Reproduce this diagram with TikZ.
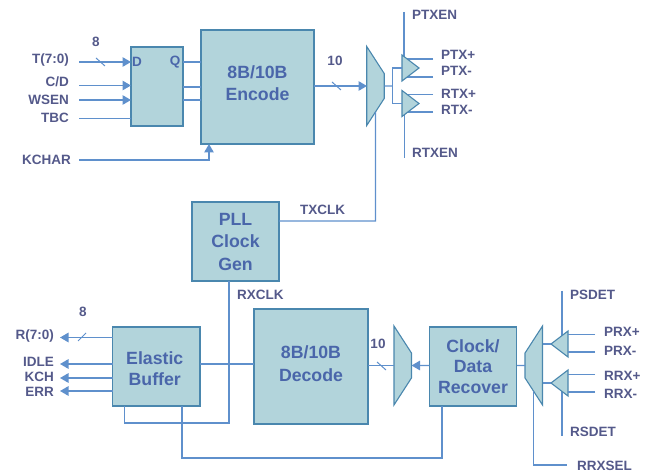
\documentclass[tikz,border=0pt]{standalone}
\usepackage{fontspec}
\setmainfont{Liberation Sans}
\usetikzlibrary{arrows.meta,shapes.geometric}
\definecolor{boxfill}{HTML}{B2D4DB}
\definecolor{boxline}{HTML}{4A87AE}
\definecolor{wire}{HTML}{5F90CC}
\definecolor{sigtext}{HTML}{54598A}
\definecolor{boxtext}{HTML}{4A66AA}
\tikzset{
  block/.style={draw=boxline,fill=boxfill,line width=1.3pt,inner sep=0pt,outer sep=0pt,align=center,text=boxtext,font=\bfseries\fontsize{17.7}{21.5}\selectfont},
  blocklabel/.style={block,draw=none,fill=none},
  muxshape/.style={trapezium,trapezium stretches=true,trapezium left angle=41,trapezium right angle=41,draw=boxline,fill=boxfill,line width=1.1pt,inner sep=0pt,outer sep=0pt,minimum width=79pt,minimum height=17.5pt},
  bufshape/.style={isosceles triangle,isosceles triangle stretches=true,draw=boxline,fill=boxfill,line width=1.1pt,inner sep=0pt,outer sep=0pt,minimum width=26pt,minimum height=17pt},
  wireline/.style={draw=wire,line width=1.3pt},
  arrowline/.style={wireline,-{Triangle[length=8.5pt,width=9.5pt]}},
  tickline/.style={draw=wire,line width=1pt},
  sig/.style={text=sigtext,font=\bfseries\fontsize{13.5}{15}\selectfont,inner sep=0pt},
  sigleft/.style={sig,anchor=west},
  sigright/.style={sig,anchor=east},
  pinlabel/.style={text=boxtext,font=\bfseries\fontsize{13.5}{15}\selectfont,inner sep=0pt}
}
\begin{document}
\begin{tikzpicture}[x=1pt,y=-1pt]
\useasboundingbox (0,0) rectangle (649,473);
% transmit side
\node[block,minimum width=52pt,minimum height=79pt] (reg) at (157,86.5) {};
\node[block,minimum width=113pt,minimum height=114pt,label={[blocklabel,yshift=4pt]center:8B/10B\\Encode}] (enc) at (257.5,87) {};
\node[muxshape,shape border rotate=270] (txmux) at (375.5,86) {\phantom{x}};
\coordinate (txin) at (367,86);
\node[pinlabel] (dpin) at (137,62) {D};
\node[pinlabel] (qpin) at (175,62) {Q};
\foreach \name/\txt/\y/\ly in {tin/T(7:0)/62/60,cdin/C\slash D/85.5/82,wsin/WSEN/100/100}{
  \coordinate (\name) at (79,\y);
  \node[sigright] (\name lab) at (69,\ly) {\txt};
  \draw[arrowline] (\name) -- (\name -| reg.west);
}
\coordinate (tbcin) at (79,118.5);
\node[sigright] (tbclab) at (69,118) {TBC};
\draw[wireline] (tbcin) -- (tbcin -| reg.west);
\coordinate (kcin) at (79,160);
\node[sigright] (kclab) at (71,160) {KCHAR};
\coordinate (kcup) at (209,144);
\draw[arrowline] (kcin) -| (kcup);
\foreach \y in {62,87,100}{\draw[wireline] (reg.east |- 0,\y) -- (enc.west |- 0,\y);}
\draw[arrowline] (enc.east |- txin) -- (txin);
\coordinate (txsplit) at (392.5,86);
\coordinate (txedge) at (407,0);
\draw[wireline] (txmux.east) -- (txsplit);
\foreach \name/\txt/\y/\ly in {ptxp/PTX+/59/55,ptxm/PTX-/77/71,rtxp/RTX+/94.5/94,rtxm/RTX-/112/110}{
  \coordinate (\name) at (433,\y);
  \node[sigleft] (\name lab) at (441,\ly) {\txt};
  \draw[wireline] (\name) -- (\name -| txedge);
}
\coordinate (ptxen) at (404,12);
\coordinate (rtxen) at (404.5,158);
\node[sigleft] (ptxenlab) at (412,15) {PTXEN};
\node[sigleft] (rtxenlab) at (412,153) {RTXEN};
\draw[wireline] (ptxen) -- (404,57);
\draw[wireline] (rtxen) -- (404.5,114);
\node[bufshape,anchor=apex] (ptxbuf) at (419,68) {\phantom{x}};
\node[bufshape,anchor=apex] (rtxbuf) at (419,103.5) {\phantom{x}};
\draw[wireline] (txsplit) |- (ptxbuf.west);
\draw[wireline] (txsplit) |- (rtxbuf.west);
\foreach \a/\b in {96/58,332/82}{\draw[tickline] (\a,\b) -- ++(9,8);}
\node[sig] (eightt) at (96,42) {8};
\node[sig] (tent) at (335,61) {10};
% clock generator
\node[block,minimum width=87pt,minimum height=79pt,font=\bfseries\fontsize{17.7}{22.5}\selectfont] (pll) at (235.5,241.5) {PLL\\Clock\\Gen};
\node[sigleft] (txclklab) at (300,210) {TXCLK};
\node[sigleft] (rxclklab) at (237,295) {RXCLK};
\coordinate (txclk) at (375.5,221);
\draw[wireline] (pll.east |- txclk) -- (txclk) -- (txmux.south);
% receive side
\node[block,minimum width=87.5pt,minimum height=79pt,label={[blocklabel,xshift=-1.5pt,yshift=-2pt]center:Elastic\\Buffer}] (ebuf) at (156.25,366.5) {};
\node[block,minimum width=114pt,minimum height=115pt,label={[blocklabel,yshift=3pt,font=\bfseries\fontsize{17.7}{23}\selectfont]center:8B/10B\\Decode}] (dec) at (311,366.5) {};
\node[muxshape,shape border rotate=270] (rxmux) at (402.75,365.5) {\phantom{x}};
\coordinate (rxin) at (394,365.5);
\node[block,minimum width=87.5pt,minimum height=79pt,font=\bfseries\fontsize{17.7}{20.5}\selectfont] (cdr) at (473,366.5) {Clock/\\Data\\Recover};
\node[muxshape,shape border rotate=90] (inmux) at (533.75,365.5) {\phantom{x}};
\foreach \name/\txt/\y/\ly in {rout/R(7:0)/337.5/336,idout/IDLE/364/362,kout/KCH/378/377,eout/ERR/391/392}{
  \coordinate (\name) at (60,\y);
  \node[sigright] (\name lab) at (54,\ly) {\txt};
  \draw[arrowline] (\name -| ebuf.west) -- (\name);
}
\draw[tickline] (78,341) -- (86,333);
\node[sig] (eightr) at (83,312) {8};
\draw[wireline] (ebuf.east |- idout) -- (dec.west |- idout);
\coordinate (rxa) at (229,423);
\coordinate (rxb) at (124.5,423);
\draw[wireline] (pll.south -| rxa) -- (rxa) -- (rxb) -- (rxb |- ebuf.south);
\coordinate (fba) at (182,458);
\coordinate (fbb) at (442,458);
\draw[wireline] (fba |- ebuf.south) -- (fba) -- (fbb) -- (fbb |- cdr.south);
\draw[wireline] (dec.east |- rxin) -- (rxin);
\draw[tickline] (377,362) -- ++(9,8);
\node[sig] (tenr) at (378,344) {10};
\draw[arrowline] (cdr.west |- rxmux.center) -- (rxmux.east);
\draw[wireline] (cdr.east |- inmux.center) -- (inmux.west);
\coordinate (psdet) at (562,291);
\coordinate (rsdet) at (562,435.7);
\node[sigleft] (psdetlab) at (570,295) {PSDET};
\node[sigleft] (rsdetlab) at (570,432) {RSDET};
\draw[wireline] (psdet) -- (562,336);
\draw[wireline] (rsdet) -- (562,391);
\node[bufshape,anchor=apex,shape border rotate=180] (prxbuf) at (551,344) {\phantom{x}};
\node[bufshape,anchor=apex,shape border rotate=180] (rrxbuf) at (551,383) {\phantom{x}};
\draw[wireline] (prxbuf.apex) -- (prxbuf.apex -| inmux.east);
\draw[wireline] (rrxbuf.apex) -- (rrxbuf.apex -| inmux.east);
\foreach \name/\txt/\y/\ly in {prxp/PRX+/334.3/332,prxm/PRX-/352/351,rrxp/RRX+/374.5/376,rrxm/RRX-/392/394}{
  \coordinate (\name) at (595,\y);
  \node[sigleft] (\name lab) at (604,\ly) {\txt};
  \draw[wireline] (\name) -- (\name -| prxbuf.east);
}
\coordinate (selb) at (533.7,465);
\coordinate (selc) at (567,465);
\node[sigleft] (rrxsellab) at (577,466) {RRXSEL};
\draw[wireline] (selb |- inmux.south) -- (selb) -- (selc);
\end{tikzpicture}
\end{document}
